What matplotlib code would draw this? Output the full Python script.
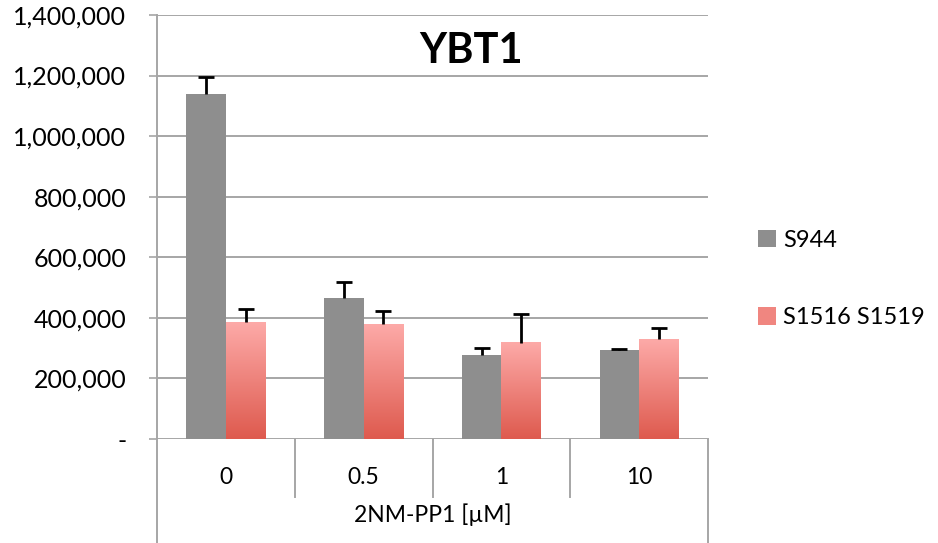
import numpy as np
import matplotlib.pyplot as plt
from matplotlib.patches import Patch
from matplotlib.colors import LinearSegmentedColormap

# Data
categories = ['0', '0.5', '1', '10']
s944 = [1139000, 465000, 277000, 295000]
s944_err = [57000, 55000, 22000, 2000]
s1516 = [385000, 379000, 317000, 330000]
s1516_err = [44000, 45000, 97000, 37000]
yticks = [0, 200000, 400000, 600000, 800000, 1000000, 1200000, 1400000]

plt.rcParams['font.family'] = ['Lato', 'DejaVu Sans']

W, H = 938, 543
fig = plt.figure(figsize=(W / 100, H / 100), dpi=100)
left, right, top, bottom = 157, 708, 15, 439
ax = fig.add_axes([left / W, 1 - bottom / H, (right - left) / W, (bottom - top) / H])

grid_c = '#A6A6A6'
gray = '#8E8E8E'
pink_cmap = LinearSegmentedColormap.from_list('pink', ['#DE5A4E', '#FDAAA8'])

x = np.arange(len(categories))
bw = 0.286
cap = 0.058


def upper_err(xs, vals, errs):
    # only the plus side, like the original chart
    tops = np.array(vals) + np.array(errs)
    ax.vlines(xs, vals, tops, color='black', lw=2, zorder=4)
    ax.hlines(tops, xs - cap, xs + cap, color='black', lw=2, zorder=4)


# gray bars
ax.bar(x - bw / 2, s944, bw, color=gray, zorder=3)
upper_err(x - bw / 2, s944, s944_err)

# pink bars with vertical gradient
grad = np.linspace(0, 1, 256).reshape(-1, 1)
for xi, v in zip(x, s1516):
    ax.imshow(grad, cmap=pink_cmap, origin='lower', aspect='auto',
              extent=[xi, xi + bw, 0, v], zorder=3)
upper_err(x + bw / 2, s1516, s1516_err)

ax.set_xlim(-0.5, len(categories) - 0.5)
ax.set_ylim(0, 1400000)

# gridlines
for yv in yticks:
    ax.axhline(yv, color=grid_c, lw=1.4, zorder=1)

for s in ax.spines.values():
    s.set_visible(False)

ax.set_yticks(yticks)
ax.set_yticklabels(['-' if v == 0 else f'{v:,}' for v in yticks])
ax.tick_params(axis='y', length=6, width=1.2, color=grid_c, pad=16, labelsize=18)
ax.set_xticks([])

# left axis line extending down past the plot
ext = -(H - bottom) / (bottom - top)
ax.plot([-0.5, -0.5], [1.0, ext], color=grid_c, lw=1.4,
        transform=ax.get_xaxis_transform(), clip_on=False, zorder=2)
ax.plot([3.5, 3.5], [0, ext], color=grid_c, lw=1.4,
        transform=ax.get_xaxis_transform(), clip_on=False, zorder=2)
for sep in [0.5, 1.5, 2.5]:
    ax.plot([sep, sep], [0, -(497 - bottom) / (bottom - top)], color=grid_c, lw=1.4,
            transform=ax.get_xaxis_transform(), clip_on=False, zorder=2)

# category labels and axis title
for xi, c in zip(x, categories):
    ax.text(xi, -(477 - bottom) / (bottom - top), c, ha='center', va='center',
            fontsize=16.5, transform=ax.get_xaxis_transform())
ax.text(1.5, -(515 - bottom) / (bottom - top), '2NM-PP1 [µM]', ha='center', va='center',
        fontsize=16.5, transform=ax.get_xaxis_transform())

ax.set_title('YBT1', fontsize=30, fontweight='bold', y=0.94, va='top', x=0.57)

handles = [Patch(facecolor=gray, label='S944'),
           Patch(facecolor='#F08680', label='S1516 S1519')]
fig.legend(handles=handles, loc='center left', bbox_to_anchor=(758 / W, 1 - 279 / H),
           frameon=False, fontsize=17, handlelength=0.75, handleheight=0.75,
           handletextpad=0.3, labelspacing=2.4, borderpad=0, borderaxespad=0)

fig.savefig('out.png', dpi=100)
